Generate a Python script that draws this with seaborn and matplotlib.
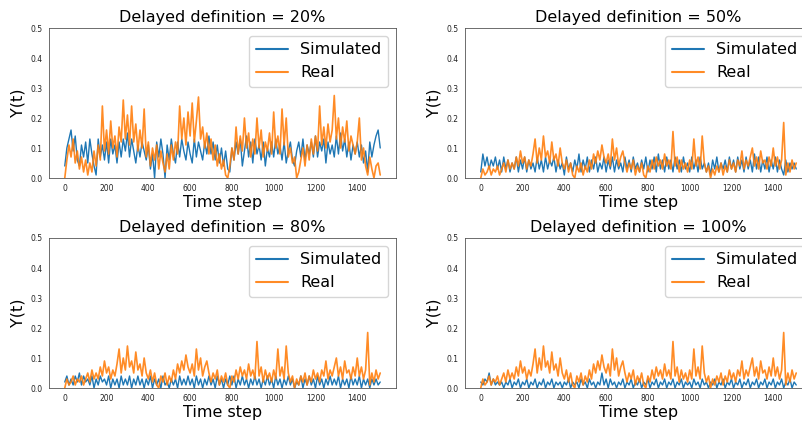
import numpy as np
import matplotlib
matplotlib.use("Agg")
import matplotlib.pyplot as plt
import seaborn as sns

sns.set_style("white")
plt.rcParams['font.family'] = ['DejaVu Sans']
plt.rcParams['text.color'] = 'black'
plt.rcParams['axes.labelcolor'] = 'black'

STEP = 10  # sampling interval (time steps) of the values

real_20 = [0.00, 0.06, 0.11, 0.07, 0.13, 0.05, 0.09, 0.03, 0.07, 0.02,
           0.06, 0.01, 0.05, 0.02, 0.09, 0.04, 0.11, 0.06, 0.24, 0.09,
           0.16, 0.08, 0.19, 0.10, 0.14, 0.07, 0.17, 0.12, 0.26, 0.13,
           0.21, 0.11, 0.24, 0.12, 0.18, 0.09, 0.16, 0.10, 0.23, 0.07,
           0.12, 0.04, 0.10, 0.06, 0.11, 0.03, 0.09, 0.05, 0.02, 0.08,
           0.03, 0.11, 0.06, 0.12, 0.08, 0.24, 0.13, 0.20, 0.11, 0.22,
           0.14, 0.25, 0.12, 0.19, 0.27, 0.13, 0.17, 0.10, 0.15, 0.08,
           0.13, 0.06, 0.11, 0.04, 0.08, 0.03, 0.06, 0.01, 0.00, 0.04,
           0.10, 0.06, 0.17, 0.08, 0.14, 0.09, 0.20, 0.10, 0.15, 0.07,
           0.13, 0.08, 0.20, 0.10, 0.16, 0.07, 0.12, 0.09, 0.15, 0.08,
           0.22, 0.10, 0.14, 0.08, 0.23, 0.11, 0.20, 0.07, 0.10, 0.05,
           0.07, 0.00, 0.02, 0.06, 0.10, 0.04, 0.11, 0.06, 0.13, 0.08,
           0.14, 0.09, 0.24, 0.11, 0.17, 0.10, 0.18, 0.12, 0.16, 0.275,
           0.13, 0.20, 0.10, 0.17, 0.12, 0.19, 0.09, 0.14, 0.11, 0.08,
           0.12, 0.20, 0.06, 0.10, 0.04, 0.01, 0.07, 0.03, 0.00, 0.04,
           0.05, 0.01]
sim_20 = [0.04, 0.10, 0.13, 0.16, 0.09, 0.14, 0.06, 0.04, 0.11, 0.07,
          0.12, 0.05, 0.13, 0.08, 0.04, 0.01, 0.13, 0.07, 0.11, 0.06,
          0.12, 0.05, 0.13, 0.08, 0.11, 0.05, 0.12, 0.07, 0.13, 0.09,
          0.15, 0.07, 0.13, 0.09, 0.05, 0.11, 0.07, 0.12, 0.09, 0.06,
          0.11, 0.03, 0.08, 0.00, 0.12, 0.07, 0.13, 0.08, 0.00, 0.11,
          0.06, 0.13, 0.08, 0.05, 0.12, 0.07, 0.13, 0.09, 0.06, 0.12,
          0.08, 0.05, 0.13, 0.07, 0.12, 0.09, 0.06, 0.12, 0.08, 0.14,
          0.08, 0.12, 0.06, 0.11, 0.05, 0.10, 0.04, 0.09, 0.03, 0.02,
          0.10, 0.06, 0.12, 0.08, 0.13, 0.04, 0.09, 0.14, 0.07, 0.12,
          0.05, 0.13, 0.08, 0.11, 0.06, 0.12, 0.04, 0.10, 0.07, 0.12,
          0.07, 0.13, 0.08, 0.11, 0.06, 0.12, 0.05, 0.09, 0.12, 0.06,
          0.04, 0.09, 0.12, 0.07, 0.13, 0.06, 0.11, 0.08, 0.12, 0.07,
          0.14, 0.07, 0.12, 0.09, 0.13, 0.05, 0.12, 0.08, 0.11, 0.07,
          0.14, 0.08, 0.15, 0.09, 0.13, 0.07, 0.12, 0.06, 0.11, 0.08,
          0.12, 0.07, 0.11, 0.05, 0.09, 0.02, 0.12, 0.07, 0.11, 0.14,
          0.16, 0.10]
real_obs = [0.00, 0.03, 0.01, 0.02, 0.04, 0.01, 0.03, 0.02, 0.04, 0.01,
            0.03, 0.05, 0.02, 0.06, 0.03, 0.05, 0.03, 0.07, 0.04, 0.09,
            0.05, 0.07, 0.03, 0.06, 0.04, 0.08, 0.13, 0.05, 0.10, 0.06,
            0.14, 0.07, 0.09, 0.05, 0.12, 0.06, 0.08, 0.04, 0.10, 0.05,
            0.03, 0.06, 0.02, 0.05, 0.01, 0.00, 0.04, 0.02, 0.05, 0.01,
            0.04, 0.02, 0.06, 0.03, 0.08, 0.05, 0.09, 0.06, 0.11, 0.07,
            0.05, 0.08, 0.04, 0.13, 0.06, 0.10, 0.04, 0.07, 0.09, 0.05,
            0.02, 0.05, 0.03, 0.06, 0.01, 0.04, 0.02, 0.05, 0.01, 0.00,
            0.04, 0.02, 0.06, 0.03, 0.07, 0.04, 0.06, 0.03, 0.08, 0.04,
            0.06, 0.03, 0.155, 0.04, 0.07, 0.02, 0.06, 0.03, 0.05, 0.02,
            0.06, 0.03, 0.13, 0.04, 0.07, 0.03, 0.14, 0.05, 0.02, 0.04,
            0.00, 0.03, 0.01, 0.04, 0.02, 0.05, 0.01, 0.04, 0.02, 0.06,
            0.03, 0.05, 0.02, 0.06, 0.04, 0.09, 0.03, 0.06, 0.04, 0.07,
            0.10, 0.04, 0.07, 0.03, 0.09, 0.05, 0.06, 0.03, 0.07, 0.04,
            0.10, 0.04, 0.07, 0.03, 0.06, 0.185, 0.01, 0.05, 0.02, 0.06,
            0.03, 0.05]
sim_50 = [0.02, 0.08, 0.04, 0.07, 0.03, 0.06, 0.04, 0.07, 0.03, 0.06,
          0.02, 0.07, 0.03, 0.06, 0.02, 0.05, 0.03, 0.07, 0.02, 0.06,
          0.03, 0.07, 0.02, 0.06, 0.03, 0.05, 0.02, 0.07, 0.03, 0.06,
          0.02, 0.07, 0.03, 0.06, 0.04, 0.07, 0.02, 0.06, 0.03, 0.05,
          0.01, 0.07, 0.03, 0.05, 0.02, 0.06, 0.03, 0.08, 0.02, 0.06,
          0.03, 0.07, 0.02, 0.06, 0.03, 0.07, 0.02, 0.05, 0.03, 0.07,
          0.02, 0.06, 0.03, 0.07, 0.02, 0.06, 0.03, 0.05, 0.02, 0.07,
          0.03, 0.06, 0.02, 0.07, 0.03, 0.05, 0.02, 0.06, 0.03, 0.07,
          0.02, 0.06, 0.03, 0.07, 0.02, 0.08, 0.03, 0.06, 0.02, 0.07,
          0.03, 0.06, 0.02, 0.07, 0.03, 0.06, 0.02, 0.07, 0.03, 0.05,
          0.02, 0.07, 0.03, 0.06, 0.02, 0.07, 0.03, 0.05, 0.02, 0.05,
          0.01, 0.06, 0.03, 0.07, 0.02, 0.05, 0.03, 0.06, 0.02, 0.07,
          0.03, 0.06, 0.02, 0.07, 0.03, 0.06, 0.02, 0.07, 0.03, 0.06,
          0.02, 0.08, 0.03, 0.07, 0.02, 0.06, 0.03, 0.07, 0.02, 0.06,
          0.03, 0.07, 0.02, 0.06, 0.03, 0.01, 0.06, 0.02, 0.05, 0.03,
          0.05, 0.03]
sim_80 = [0.02, 0.04, 0.01, 0.03, 0.01, 0.04, 0.02, 0.05, 0.01, 0.04,
          0.02, 0.03, 0.01, 0.04, 0.00, 0.03, 0.01, 0.04, 0.02, 0.03,
          0.01, 0.04, 0.00, 0.03, 0.01, 0.03, 0.00, 0.04, 0.01, 0.03,
          0.01, 0.04, 0.00, 0.03, 0.01, 0.04, 0.01, 0.03, 0.00, 0.03,
          0.01, 0.04, 0.00, 0.03, 0.01, 0.03, 0.00, 0.04, 0.01, 0.02,
          0.00, 0.03, 0.01, 0.03, 0.00, 0.04, 0.01, 0.03, 0.01, 0.04,
          0.01, 0.03, 0.00, 0.04, 0.01, 0.03, 0.00, 0.03, 0.01, 0.04,
          0.01, 0.03, 0.00, 0.04, 0.01, 0.03, 0.00, 0.03, 0.01, 0.04,
          0.01, 0.04, 0.00, 0.03, 0.01, 0.04, 0.01, 0.03, 0.00, 0.03,
          0.01, 0.04, 0.01, 0.03, 0.00, 0.03, 0.01, 0.04, 0.01, 0.03,
          0.00, 0.04, 0.01, 0.03, 0.00, 0.03, 0.01, 0.04, 0.01, 0.03,
          0.00, 0.02, 0.01, 0.04, 0.00, 0.03, 0.01, 0.04, 0.01, 0.03,
          0.00, 0.04, 0.01, 0.03, 0.00, 0.03, 0.01, 0.04, 0.01, 0.03,
          0.01, 0.04, 0.00, 0.03, 0.01, 0.03, 0.00, 0.04, 0.01, 0.03,
          0.01, 0.04, 0.00, 0.03, 0.01, 0.03, 0.00, 0.03, 0.01, 0.03,
          0.01, 0.02]
sim_100 = [0.02, 0.01, 0.03, 0.02, 0.05, 0.01, 0.03, 0.01, 0.02, 0.01,
           0.02, 0.00, 0.02, 0.01, 0.03, 0.00, 0.02, 0.01, 0.03, 0.00,
           0.02, 0.01, 0.03, 0.00, 0.02, 0.01, 0.03, 0.00, 0.02, 0.01,
           0.03, 0.00, 0.02, 0.01, 0.03, 0.00, 0.02, 0.01, 0.02, 0.00,
           0.02, 0.01, 0.03, 0.00, 0.02, 0.01, 0.02, 0.00, 0.03, 0.01,
           0.02, 0.00, 0.03, 0.01, 0.02, 0.00, 0.02, 0.01, 0.05, 0.01,
           0.03, 0.00, 0.03, 0.01, 0.02, 0.00, 0.02, 0.01, 0.03, 0.00,
           0.02, 0.01, 0.03, 0.00, 0.02, 0.01, 0.03, 0.00, 0.02, 0.01,
           0.03, 0.00, 0.02, 0.01, 0.03, 0.00, 0.02, 0.01, 0.03, 0.00,
           0.02, 0.01, 0.03, 0.00, 0.02, 0.01, 0.03, 0.00, 0.02, 0.01,
           0.02, 0.00, 0.03, 0.01, 0.02, 0.00, 0.03, 0.01, 0.02, 0.00,
           0.02, 0.01, 0.03, 0.00, 0.02, 0.01, 0.03, 0.00, 0.02, 0.01,
           0.03, 0.00, 0.02, 0.01, 0.03, 0.00, 0.02, 0.01, 0.03, 0.00,
           0.02, 0.01, 0.03, 0.00, 0.02, 0.01, 0.03, 0.00, 0.02, 0.01,
           0.03, 0.00, 0.02, 0.01, 0.03, 0.00, 0.02, 0.01, 0.03, 0.00,
           0.02, 0.01]

titles = ["Delayed definition = 20%", "Delayed definition = 50%",
          "Delayed definition = 80%", "Delayed definition = 100%"]
sim_series = [sim_20, sim_50, sim_80, sim_100]
real_series = [real_20, real_obs, real_obs, real_obs]

W, H = 803, 422
fig = plt.figure(figsize=(W / 100, H / 100), dpi=100)
aw = 347 / W
ah = 150 / H
positions = [(49 / W, 1 - 178 / H), (465 / W, 1 - 178 / H),
             (49 / W, 1 - 388 / H), (465 / W, 1 - 388 / H)]

for title, sim, real, (x0, y0) in zip(titles, sim_series, real_series, positions):
    ax = fig.add_axes([x0, y0, aw, ah])
    ts = np.arange(len(sim)) * STEP
    tr = np.arange(len(real)) * STEP
    sns.lineplot(x=ts, y=sim, ax=ax, color="#1f77b4", lw=1.0, label="Simulated")
    sns.lineplot(x=tr, y=real, ax=ax, color="#ff7f0e", lw=1.2, alpha=0.9, label="Real")
    ax.set_ylim(0, 0.5)
    ax.set_yticks(np.arange(0, 0.51, 0.1))
    ax.set_yticklabels([f"{v:.1f}" for v in np.arange(0, 0.51, 0.1)])
    ax.set_xticks(np.arange(0, 1401, 200))
    ax.tick_params(labelsize=5.5, length=2.5, width=0.5, pad=2, colors="#222222")
    for s in ax.spines.values():
        s.set_linewidth(0.6)
        s.set_color("#555555")
    ax.set_title(title, fontsize=11.5, pad=4, color="black")
    ax.set_xlabel("Time step", fontsize=11.5, labelpad=1)
    ax.set_ylabel("Y(t)", fontsize=11.5, labelpad=4)
    leg = ax.legend(loc="upper right", fontsize=11.5, frameon=True)
    for line in leg.get_lines():
        line.set_linewidth(1.5)

fig.savefig("out.png", dpi=100)
